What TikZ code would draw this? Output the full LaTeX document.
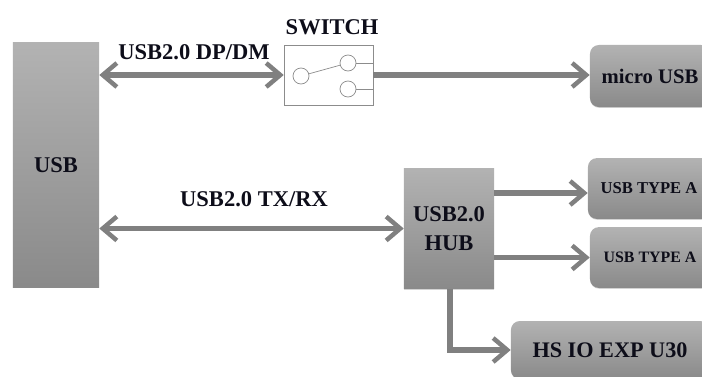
\documentclass[tikz,border=0pt]{standalone}
\usepackage{fontspec}
\setmainfont{Liberation Serif}
\usetikzlibrary{arrows.meta,shadows}
\definecolor{wire}{gray}{0.5}
\definecolor{ink}{rgb}{0.05,0.05,0.1}
\tikzset{
    block/.style={minimum height=0.7cm, inner sep=0pt, top color=black!30, bottom color=black!46, draw=none, align=center, text=ink, font=\bfseries\fontsize{16}{21}\selectfont, drop shadow={shadow xshift=0.2pt, shadow yshift=-0.6pt, opacity=0.35}},
    port/.style={block, rounded corners=0.22cm},
    link/.style={draw=wire, line width=3.8pt, -{Straight Barb[length=10pt, width=17pt, line width=3.2pt]}},
    twolink/.style={link, {Straight Barb[length=10pt, width=17pt, line width=3.2pt]}-{Straight Barb[length=10pt, width=17pt, line width=3.2pt]}},
    contact/.style={draw=black!45, fill=white, circle, minimum size=0.4cm, inner sep=0pt, line width=0.5pt},
    tag/.style={text=ink, font=\bfseries\fontsize{16}{19}\selectfont}
}
\begin{document}
\begin{tikzpicture}[x=0.025cm, y=-0.025cm]
        \useasboundingbox (0,0) rectangle (702,376);

        % Host
        \node[block, minimum width=2.15cm, minimum height=6.12cm] (usb) at (56,165) {USB};

        % Switch
        \node[draw=black!45, fill=white, line width=0.5pt, minimum width=2.22cm, minimum height=1.5cm, inner sep=0pt] (switch) at (328.5,75) {};
        \node[contact] (common) at (301,76) {};
        \node[contact] (upper) at (348,63) {};
        \node[contact] (lower) at (348,89) {};
        \node[tag] (switchname) at (332,27) {SWITCH};
        \draw[black!45, line width=0.5pt] (common) -- (upper);
        \draw[black!45, line width=0.5pt] (upper) -- (switch.east |- upper);
        \draw[black!45, line width=0.5pt] (lower) -- (switch.east |- lower);

        % Hub
        \node[block, minimum width=2.25cm, minimum height=3.02cm] (hub) at (449,228.5) {USB2.0\\HUB};

        % Outputs
        \node[port, minimum width=3cm, minimum height=1.55cm, font=\bfseries\fontsize{14.7}{17}\selectfont] (micro) at (650,76) {micro USB};
        \node[port, minimum width=3.05cm, minimum height=1.52cm, font=\bfseries\fontsize{11.8}{14}\selectfont] (typea) at (649,188.5) {USB TYPE A};
        \node[port, minimum width=3cm, minimum height=1.52cm, font=\bfseries\fontsize{11.3}{14}\selectfont] (typeb) at (650,257.5) {USB TYPE A};
        \node[port, minimum width=4.95cm, minimum height=1.45cm, font=\bfseries\fontsize{15.8}{19}\selectfont] (expander) at (610,350) {HS IO EXP U30};

        % Bus labels
        \node[tag] (dpdm) at (194,52) {USB2.0 DP/DM};
        \node[tag] (txrx) at (254,199) {USB2.0 TX/RX};

        \coordinate (tapa) at (typea.west |- 0,193);
        \coordinate (tapdown) at (450,350);

        \draw[twolink] (usb.east |- switch.west) -- (switch.west);
        \draw[link] (switch.east) -- (micro.west |- switch.east);
        \draw[twolink] (usb.east |- hub.west) -- (hub.west);
        \draw[link] (hub.east |- tapa) -- (tapa);
        \draw[link] (hub.east |- typeb.west) -- (typeb.west);
        \draw[link] (hub.south -| tapdown) -- (tapdown) -- (expander.west);
    \end{tikzpicture}
\end{document}
